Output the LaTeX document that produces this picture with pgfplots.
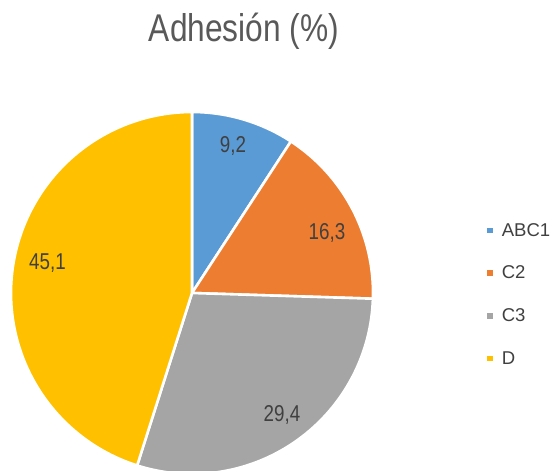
\documentclass[border=0pt]{standalone}
\usepackage{pgfplots}
\pgfplotsset{compat=1.18}
\usepackage{fontspec}
\setmainfont{Liberation Sans}
\newfontfamily\narrowfont[FakeStretch=0.82]{Liberation Sans}

\definecolor{cABC}{HTML}{5B9BD5}
\definecolor{cCdos}{HTML}{ED7D31}
\definecolor{cCtres}{HTML}{A5A5A5}
\definecolor{cD}{HTML}{FFC000}
\definecolor{txt}{HTML}{404040}
\definecolor{ttl}{HTML}{595959}

% shares (%), clockwise from 12 o'clock
\def\vA{9.2}
\def\vB{16.3}
\def\vC{29.4}
\def\vD{45.1}

\begin{document}
\begin{tikzpicture}
\pgfmathsetmacro\aA{90}
\pgfmathsetmacro\aB{\aA-3.6*\vA}
\pgfmathsetmacro\aC{\aB-3.6*\vB}
\pgfmathsetmacro\aD{\aC-3.6*\vC}
\pgfmathsetmacro\aE{\aD-3.6*\vD}
\begin{axis}[
    name=ax,
    scale only axis,
    width=556bp, height=471bp,
    xmin=0, xmax=556, ymin=0, ymax=471,
    hide axis,
    legend style={
        at={(axis cs:484,252)}, anchor=north west,
        draw=none, fill=none,
        font=\fontsize{18.6pt}{21pt}\selectfont\color{txt},
        row sep=24.3bp,
        /tikz/every odd column/.append style={column sep=7bp},
    },
    legend cell align=left,
    legend image code/.code={
        \fill[#1,draw=none] (0bp,-2.8bp) rectangle (5.6bp,2.8bp);
    },
    every axis plot/.append style={draw=white, line width=2.6bp},
]
\addplot[fill=cABC, domain=\aB:\aA, samples=40, variable=\t]
    ({192+181*cos(\t)},{178+181*sin(\t)}) -- (axis cs:192,178) -- cycle;
\addlegendentry{ABC1}
\addplot[fill=cCdos, domain=\aC:\aB, samples=50, variable=\t]
    ({192+181*cos(\t)},{178+181*sin(\t)}) -- (axis cs:192,178) -- cycle;
\addlegendentry{C2}
\addplot[fill=cCtres, domain=\aD:\aC, samples=80, variable=\t]
    ({192+181*cos(\t)},{178+181*sin(\t)}) -- (axis cs:192,178) -- cycle;
\addlegendentry{C3}
\addplot[fill=cD, domain=\aE:\aD, samples=110, variable=\t]
    ({192+181*cos(\t)},{178+181*sin(\t)}) -- (axis cs:192,178) -- cycle;
\addlegendentry{D}

\node[anchor=base, text=ttl, font=\narrowfont\fontsize{38.8pt}{40pt}\selectfont]
    at (axis cs:244,429.5) {Adhesión (\%)};
\begin{scope}[every node/.style={anchor=base, text=txt,
        font=\narrowfont\fontsize{23pt}{25pt}\selectfont}]
\node at (axis cs:233,318) {9,2};
\node at (axis cs:327,231) {16,3};
\node at (axis cs:282,49) {29,4};
\node at (axis cs:47.5,201) {45,1};
\end{scope}
\end{axis}
\pgfresetboundingbox
\path (ax.south west) rectangle (ax.north east);
\end{tikzpicture}
\end{document}
